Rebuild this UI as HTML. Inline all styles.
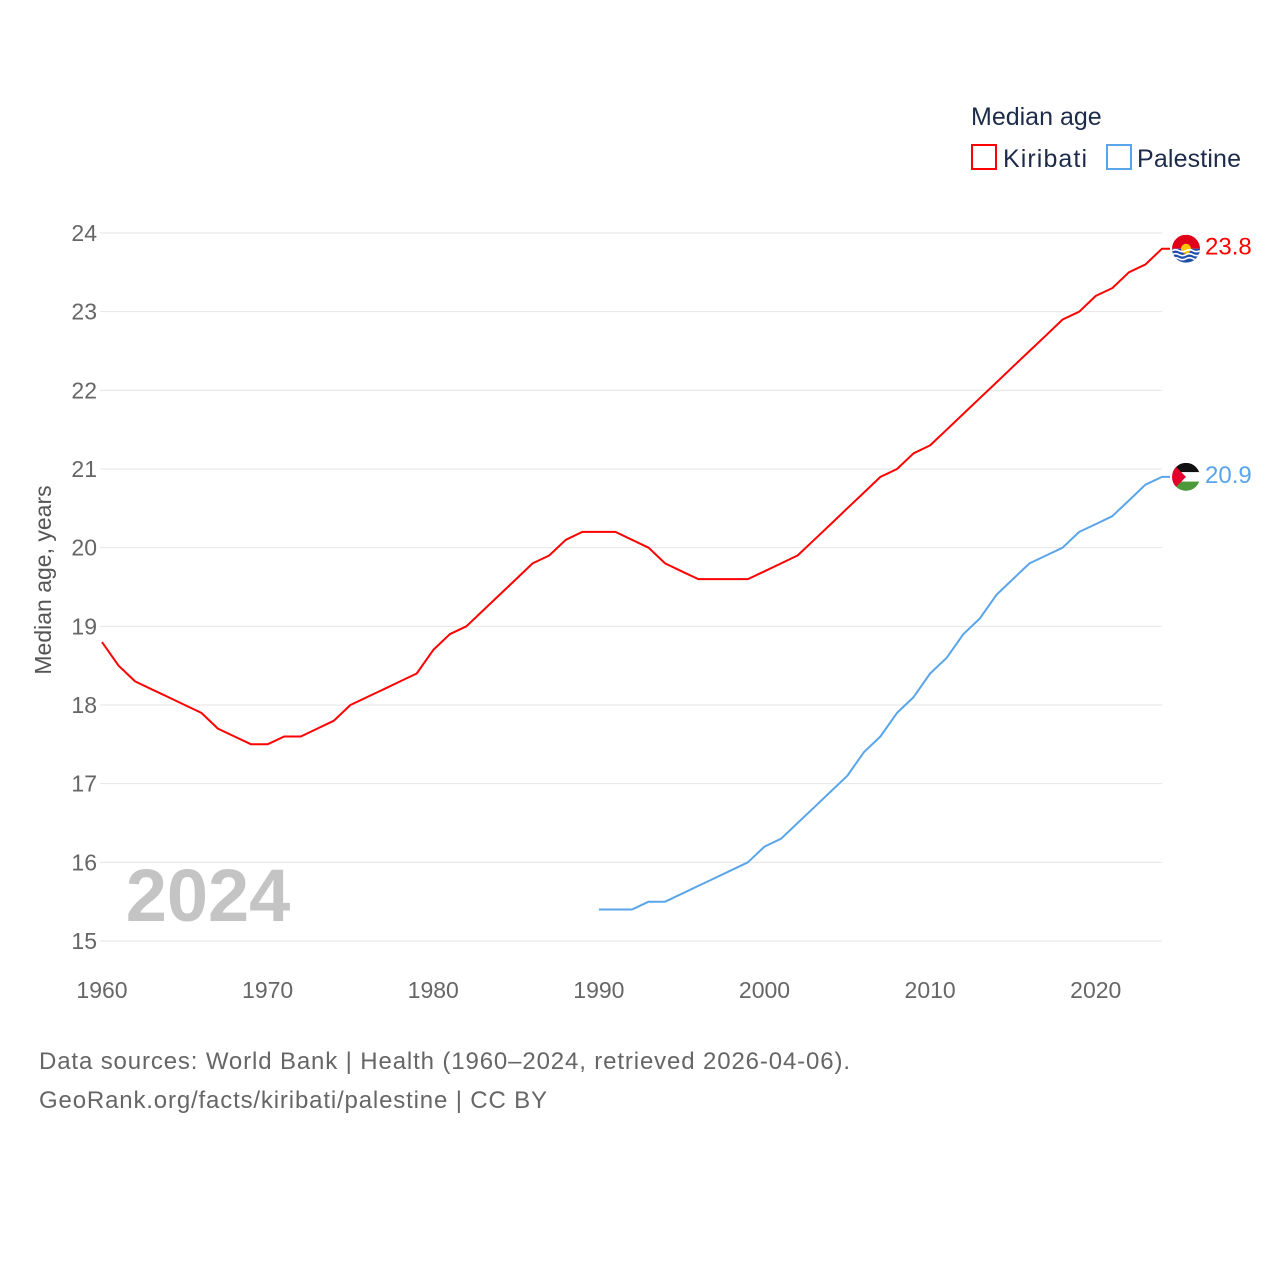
<!DOCTYPE html>
<html><head><meta charset="utf-8"><style>
html,body{margin:0;padding:0;background:#fff;}
svg{display:block;font-family:"Liberation Sans",sans-serif;}
</style></head><body>
<svg id="chart" width="1280" height="1280" viewBox="0 0 1280 1280">
  <text x="971" y="125" font-size="25" fill="#1d2b4a">Median age</text>
  <g>
    <rect x="972" y="145" width="24" height="24" fill="none" stroke="#f00" stroke-width="2"/>
    <text x="1003" y="167" font-size="25" fill="#1d2b4a" textLength="84">Kiribati</text>
  </g>
  <g>
    <rect x="1107" y="145" width="24" height="24" fill="none" stroke="#5aa5ea" stroke-width="2"/>
    <text x="1137" y="167" font-size="25" fill="#1d2b4a" textLength="104">Palestine</text>
  </g>
  <g id="grid"></g>
  <text x="208" y="921" font-size="74" font-weight="bold" fill="#c4c4c4" text-anchor="middle">2024</text>
  <g id="series"></g>
  <text transform="translate(51,580) rotate(-90)" font-size="23" fill="#555" text-anchor="middle">Median age, years</text>
  <text x="39" y="1069" font-size="24" fill="#666" textLength="811">Data sources: World Bank | Health (1960–2024, retrieved 2026-04-06).</text>
  <text x="39" y="1108" font-size="24" fill="#666" textLength="508">GeoRank.org/facts/kiribati/palestine | CC BY</text>
</svg>
<script>
const kiribatiYears = [];
for (let y = 1960; y <= 2024; y++) kiribatiYears.push(y);
const kiribatiValues = [18.8,18.5,18.3,18.2,18.1,18.0,17.9,17.7,17.6,17.5,17.5,17.6,17.6,17.7,17.8,18.0,18.1,18.2,18.3,18.4,18.7,18.9,19.0,19.2,19.4,19.6,19.8,19.9,20.1,20.2,20.2,20.2,20.1,20.0,19.8,19.7,19.6,19.6,19.6,19.6,19.7,19.8,19.9,20.1,20.3,20.5,20.7,20.9,21.0,21.2,21.3,21.5,21.7,21.9,22.1,22.3,22.5,22.7,22.9,23.0,23.2,23.3,23.5,23.6,23.8];
const palestineYears = [];
for (let y = 1990; y <= 2024; y++) palestineYears.push(y);
const palestineValues = [15.4,15.4,15.4,15.5,15.5,15.6,15.7,15.8,15.9,16.0,16.2,16.3,16.5,16.7,16.9,17.1,17.4,17.6,17.9,18.1,18.4,18.6,18.9,19.1,19.4,19.6,19.8,19.9,20.0,20.2,20.3,20.4,20.6,20.8,20.9];
const yTicks = [15,16,17,18,19,20,21,22,23,24];
const xTicks = [1960,1970,1980,1990,2000,2010,2020];

const NS = "http://www.w3.org/2000/svg";
const X0 = 102, X1 = 1162, Y0 = 941, Y1 = 233;
const xs = yr => X0 + (yr - 1960) * (X1 - X0) / 64;
const ys = v => Y0 - (v - 15) * (Y0 - Y1) / 9;
function mk(tag, attrs, parent) {
  const e = document.createElementNS(NS, tag);
  for (const k in attrs) e.setAttribute(k, attrs[k]);
  parent.appendChild(e);
  return e;
}
const grid = document.getElementById('grid');
yTicks.forEach(t => {
  const l = mk('line', {x1: 100, x2: X1, y1: ys(t), y2: ys(t), stroke: '#e6e6e6', 'stroke-width': 1}, grid);
  
  
  const tx = mk('text', {x: 97, y: ys(t) + 8, 'font-size': 23, fill: '#666', 'text-anchor': 'end'}, grid);
  tx.textContent = t;
  
  
});
xTicks.forEach(t => {
  const tx = mk('text', {x: xs(t), y: 998, 'font-size': 23, fill: '#666', 'text-anchor': 'middle'}, grid);
  tx.textContent = t;
  
  
});
const series = document.getElementById('series');
function drawLine(years, vals, color, name) {
  const last = vals[vals.length - 1];
  const d = years.map((yr, i) => (i ? 'L' : 'M') + xs(yr).toFixed(1) + ',' + ys(vals[i]).toFixed(1)).join('') + 'L1170,' + ys(last).toFixed(1);
  const p = mk('path', {d: d, fill: 'none', stroke: color, 'stroke-width': 2, 'stroke-linejoin': 'round'}, series);
  
  
  const lbl = mk('text', {x: 1205, y: ys(last) + 6, 'font-size': 24, fill: color}, series);
  lbl.textContent = last.toFixed(1);
  
  
  return ys(last);
}
const ky = drawLine(kiribatiYears, kiribatiValues, '#ff0000', 'kiribati');
const py = drawLine(palestineYears, palestineValues, '#5aa5ea', 'palestine');
const kf = mk('g', {}, series);


mk('clipPath', {id: 'kc'}, kf).appendChild(document.createElementNS(NS, 'circle'));
const kcc = kf.querySelector('#kc circle'); kcc.setAttribute('cx', 1186); kcc.setAttribute('cy', ky); kcc.setAttribute('r', 14);
const kg = mk('g', {'clip-path': 'url(#kc)'}, kf);
mk('rect', {x: 1172, y: ky - 14, width: 28, height: 14, fill: '#e0001a'}, kg);
mk('rect', {x: 1172, y: ky, width: 28, height: 14, fill: '#1f4fa8'}, kg);
mk('circle', {cx: 1186, cy: ky, r: 5, fill: '#ffc400'}, kg);
[2, 6, 10].forEach(o => mk('path', {d: `M1172,${ky + o} q3.5,-2 7,0 t7,0 t7,0 t7,0`, stroke: '#fff', 'stroke-width': 1.6, fill: 'none'}, kg));
const pf = mk('g', {}, series);


mk('clipPath', {id: 'pc'}, pf).appendChild(document.createElementNS(NS, 'circle'));
const pcc = pf.querySelector('#pc circle'); pcc.setAttribute('cx', 1186); pcc.setAttribute('cy', py); pcc.setAttribute('r', 14);
const pg = mk('g', {'clip-path': 'url(#pc)'}, pf);
mk('rect', {x: 1172, y: py - 14, width: 28, height: 9.4, fill: '#111'}, pg);
mk('rect', {x: 1172, y: py - 4.7, width: 28, height: 9.4, fill: '#fff'}, pg);
mk('rect', {x: 1172, y: py + 4.7, width: 28, height: 9.4, fill: '#4a9a3a'}, pg);
mk('path', {d: `M1172,${py - 14} L1186,${py} L1172,${py + 14} Z`, fill: '#e4002b'}, pg);
</script>
</body></html>
